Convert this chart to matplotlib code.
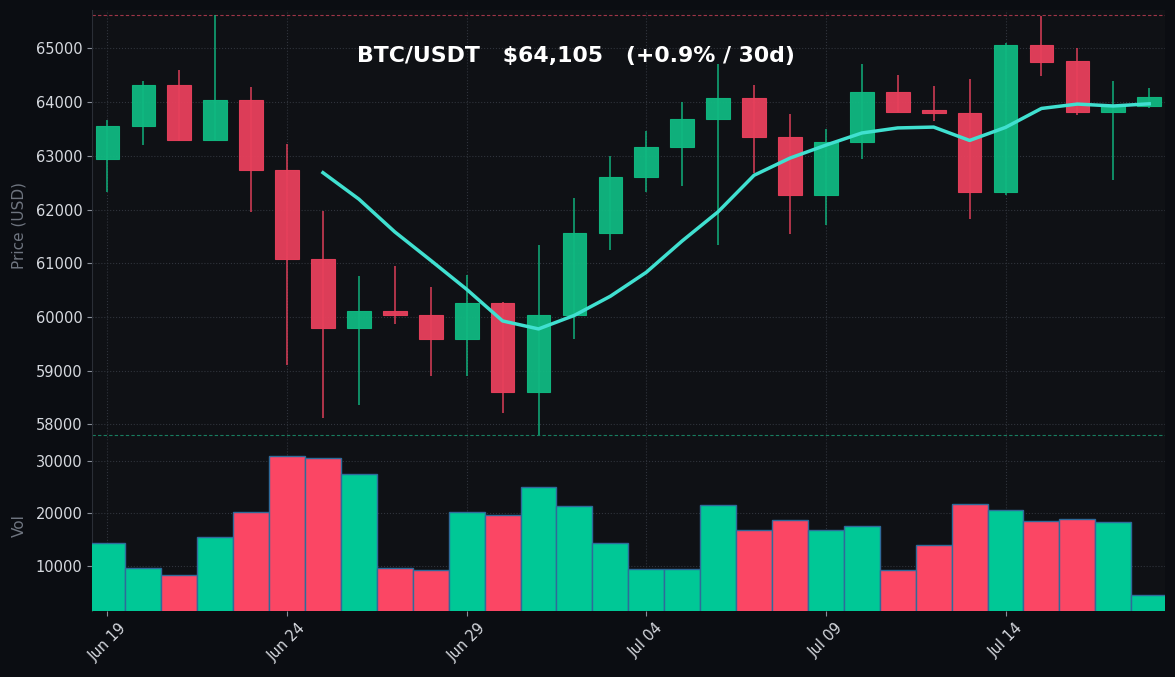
import matplotlib
matplotlib.use("Agg")
import matplotlib.pyplot as plt
import numpy as np
import pandas as pd

# ---------------- data ----------------
dates = ["Jun 19", "Jun 20", "Jun 21", "Jun 22", "Jun 23", "Jun 24", "Jun 25", "Jun 26",
         "Jun 27", "Jun 28", "Jun 29", "Jun 30", "Jul 01", "Jul 02", "Jul 03", "Jul 04",
         "Jul 05", "Jul 06", "Jul 07", "Jul 08", "Jul 09", "Jul 10", "Jul 11", "Jul 12",
         "Jul 13", "Jul 14", "Jul 15", "Jul 16", "Jul 17", "Jul 18"]
opens = [62950, 63550, 64310, 63300, 64040, 62730, 61080, 59790, 60120, 60040,
         59590, 60270, 58610, 60040, 61560, 62600, 63160, 63680, 64070, 63360,
         62280, 63250, 64180, 63850, 63800, 62330, 65060, 64760, 63820, 63930]
highs = [63665, 64390, 64600, 65625, 64280, 63230, 61970, 60760, 60950, 60560,
         60780, 60280, 61340, 62210, 62990, 63460, 64000, 64710, 64320, 63780,
         63500, 64710, 64500, 64300, 64430, 65100, 65610, 65000, 64390, 64270]
lows = [62330, 63200, 63280, 63290, 61960, 59100, 58120, 58360, 59870, 58900,
        58900, 58220, 57800, 59590, 61240, 62330, 62440, 61340, 62680, 61550,
        61720, 62940, 63820, 63650, 61830, 62270, 64480, 63760, 62550, 63900]
closes = [63560, 64310, 63300, 64040, 62730, 61080, 59790, 60110, 60040, 59590,
          60270, 58610, 60040, 61560, 62600, 63160, 63680, 64070, 63360, 62280,
          63250, 64180, 63820, 63790, 62330, 65060, 64750, 63820, 63930, 64105]
volumes = [14400, 9700, 8200, 15550, 20250, 30800, 30400, 27450, 9620, 9200,
           20300, 19750, 25050, 21450, 14300, 9380, 9380, 21600, 16900, 18780,
           16870, 17620, 9320, 13960, 21780, 20640, 18500, 18940, 18300, 4470]
tick_labels = ["Jun 19", "Jun 24", "Jun 29", "Jul 04", "Jul 09", "Jul 14"]
ma_window = 7

# ---------------- style ----------------
FIG_BG = "#0b0d12"
AX_BG = "#0f1115"
GRID = "#30343c"
TXT = "#d6d9df"
LBL = "#6f7580"
UP = "#10b981"
DN = "#e8405c"
VUP = "#00c896"
VDN = "#fb4664"
MA_C = "#40e0d0"

df = pd.DataFrame({"open": opens, "high": highs, "low": lows, "close": closes, "vol": volumes},
                  index=dates)
x = np.arange(len(df))
up = df["close"].values >= df["open"].values
ma = df["close"].rolling(ma_window).mean()

fig = plt.figure(figsize=(11.75, 6.77), dpi=100, facecolor=FIG_BG)
ax = fig.add_axes([0.0783, 0.350, 0.9132, 0.6352], facecolor=AX_BG)
axv = fig.add_axes([0.0783, 0.0975, 0.9132, 0.2525], facecolor=AX_BG, sharex=ax)

# candles
w = 0.66
for i in range(len(df)):
    o, h, l, c = df["open"].iloc[i], df["high"].iloc[i], df["low"].iloc[i], df["close"].iloc[i]
    col = UP if up[i] else DN
    ax.vlines(x[i], l, h, color=col, linewidth=1.3, alpha=0.8, zorder=2)
    bottom = min(o, c)
    height = max(abs(c - o), 25)
    ax.bar(x[i], height, w, bottom=bottom, color=col, edgecolor=col, linewidth=0.8,
           alpha=0.95, zorder=3)

ax.plot(x, ma.values, color=MA_C, linewidth=2.5, zorder=4)

hi = df["high"].max()
lo = df["low"].min()
ax.axhline(hi, color="#b03a4e", linestyle=(0, (3, 2)), linewidth=0.8, alpha=0.9, zorder=1)
ax.axhline(lo, color="#1a8a68", linestyle=(0, (3, 2)), linewidth=0.8, alpha=0.9, zorder=1)
pad = (hi - lo) * 0.0115
ax.set_ylim(lo - pad, hi + pad)
ax.set_yticks(np.arange(58000, 65001, 1000))

# volume
vcols = [VUP if u else VDN for u in up]
axv.bar(x, df["vol"].values, 1.0, color=vcols, edgecolor="#2e6b9a", linewidth=1.0, zorder=3)
axv.set_ylim(1450, df["vol"].max() * 1.1)
axv.set_yticks([10000, 20000, 30000])

ax.set_xlim(-0.43, 29.44)
tick_pos = [dates.index(t) for t in tick_labels]
axv.set_xticks(tick_pos)
axv.set_xticklabels(tick_labels, rotation=45, ha="center")
plt.setp(ax.get_xticklabels(), visible=False)

for a in (ax, axv):
    a.grid(True, color=GRID, linestyle=":", linewidth=0.8, zorder=0)
    a.set_axisbelow(True)
    for s in ("top", "right", "bottom"):
        a.spines[s].set_visible(False)
    a.spines["left"].set_color("#2a2e36")
    a.tick_params(colors=TXT, labelsize=10.5, length=3.5, width=0.8)
    a.tick_params(axis="both", color="#8a8f99")
ax.tick_params(axis="x", length=0)

ax.set_ylabel("Price (USD)", color=LBL, fontsize=11)
axv.set_ylabel("Vol", color=LBL, fontsize=11)
ax.yaxis.set_label_coords(-0.061, 0.5)
axv.yaxis.set_label_coords(-0.061, 0.5)

pct = (df["close"].iloc[-1] / df["close"].iloc[0] - 1) * 100
title = f"BTC/USDT   ${df['close'].iloc[-1]:,.0f}   ({pct:+.1f}% / 30d)"
fig.text(0.49, 0.917, title, color="white", fontsize=15.8, fontweight="bold",
         ha="center", va="center")

fig.savefig("out.png", dpi=100, facecolor=FIG_BG)
